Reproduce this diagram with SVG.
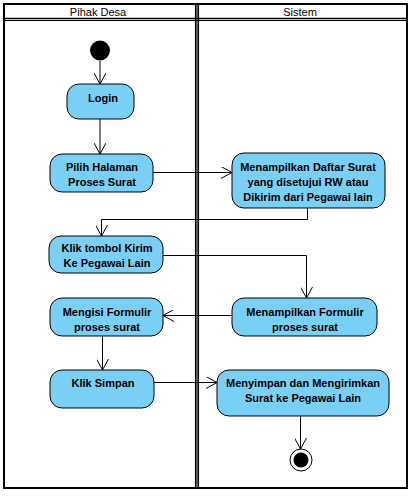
<svg xmlns="http://www.w3.org/2000/svg" width="415" height="497" viewBox="0 0 415 497">
<style>
.lane{fill:none;stroke:#000;stroke-width:2}
.hdr{font-family:"Liberation Sans",Arial,sans-serif;font-size:11px;fill:#000;text-anchor:middle}
.act rect{fill:#7ACFF5;stroke:#000;stroke-width:1}
.act text{font-family:"Liberation Sans",Arial,sans-serif;font-size:11px;font-weight:bold;fill:#000;text-anchor:middle}
.edge{fill:none;stroke:#000;stroke-width:1}
</style>
<defs>
<marker id="arr" viewBox="0 0 12 12" refX="11" refY="6" markerWidth="12" markerHeight="12" markerUnits="userSpaceOnUse" orient="auto">
<path d="M0,0 L11,6 L0,12" fill="none" stroke="#000" stroke-width="1"/>
</marker>
</defs>
<rect width="415" height="497" fill="#fff"/>
<g id="swimlanes">
<rect class="lane" x="4" y="4" width="403" height="484"/>
<line x1="4" y1="18.5" x2="407" y2="18.5" stroke="#000" stroke-width="1.6"/>
<line x1="4" y1="20.5" x2="407" y2="20.5" stroke="#000" stroke-width="1.2"/>
<line x1="195.8" y1="4" x2="195.8" y2="488" stroke="#000" stroke-width="1.7"/>
<line x1="198.2" y1="4" x2="198.2" y2="488" stroke="#000" stroke-width="1.7"/>
<text class="hdr" x="98" y="16">Pihak Desa</text>
<text class="hdr" x="300" y="16">Sistem</text>
</g>
<g id="start"><circle cx="100" cy="50.5" r="10" fill="#000"/></g>
<g id="login" class="act"><rect x="67" y="84" width="67" height="35" rx="12"/><text x="103" y="102">Login</text></g>
<g id="pilih" class="act"><rect x="50" y="154" width="103" height="38" rx="12"/><text x="102" y="171">Pilih Halaman</text><text x="102" y="186">Proses Surat</text></g>
<g id="daftar" class="act"><rect x="232" y="153" width="153" height="55" rx="12"/><text x="308" y="171">Menampilkan Daftar Surat</text><text x="308" y="186">yang disetujui RW atau</text><text x="308" y="201">Dikirim dari Pegawai lain</text></g>
<g id="kirim" class="act"><rect x="49" y="236" width="114" height="37" rx="12"/><text x="107" y="252">Klik tombol Kirim</text><text x="107" y="267">Ke Pegawai Lain</text></g>
<g id="tampilform" class="act"><rect x="232" y="298" width="145" height="38" rx="12"/><text x="305" y="316">Menampilkan Formulir</text><text x="305" y="331">proses surat</text></g>
<g id="isiform" class="act"><rect x="50" y="298" width="113" height="38" rx="12"/><text x="107" y="316">Mengisi Formulir</text><text x="107" y="331">proses surat</text></g>
<g id="simpan" class="act"><rect x="50" y="370" width="104" height="38" rx="12"/><text x="103" y="387">Klik Simpan</text></g>
<g id="menyimpan" class="act"><rect x="217" y="370" width="172" height="46" rx="12"/><text x="303" y="387">Menyimpan dan Mengirimkan</text><text x="303" y="402">Surat ke Pegawai Lain</text></g>
<g id="end"><circle cx="301" cy="460" r="11" fill="#fff" stroke="#000" stroke-width="1"/><circle cx="301" cy="460" r="7.5" fill="#000"/></g>
<g id="connectors">
<path class="edge" d="M100,61 L100,84" marker-end="url(#arr)"/>
<path class="edge" d="M100,119 L100,154" marker-end="url(#arr)"/>
<path class="edge" d="M153,172.5 L232,172.5" marker-end="url(#arr)"/>
<path class="edge" d="M307.5,208 L307.5,219.5 L101.5,219.5 L101.5,236" marker-end="url(#arr)"/>
<path class="edge" d="M163,255.5 L306.5,255.5 L306.5,298" marker-end="url(#arr)"/>
<path class="edge" d="M232,315.5 L163,315.5" marker-end="url(#arr)"/>
<path class="edge" d="M102.5,336 L102.5,370" marker-end="url(#arr)"/>
<path class="edge" d="M154,382.5 L217,382.5" marker-end="url(#arr)"/>
<path class="edge" d="M300.5,416 L300.5,449" marker-end="url(#arr)"/>
</g>
</svg>
